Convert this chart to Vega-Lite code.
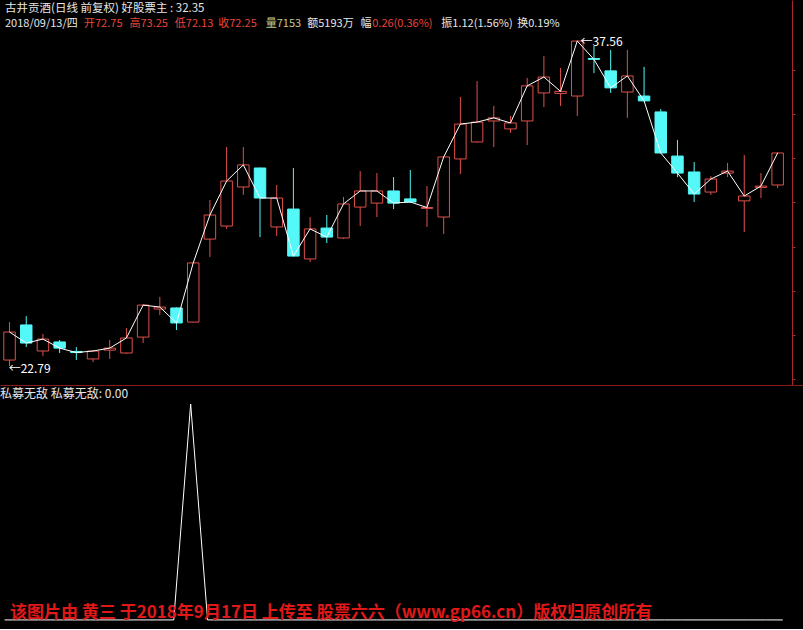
{
  "$schema": "https://vega.github.io/schema/vega-lite/v6.json",
  "background": "#000000",
  "padding": 0,
  "spacing": 0,
  "config": {
    "view": {"stroke": null},
    "text": {"font": "Noto Sans CJK SC", "fontSize": 12, "align": "left", "baseline": "middle"}
  },
  "datasets": {
    "k": [
      {"i": 0, "o": 23.06, "h": 24.78, "l": 22.79, "c": 24.33, "d": "up"},
      {"i": 1, "o": 24.65, "h": 25.05, "l": 23.65, "c": 23.83, "d": "down"},
      {"i": 2, "o": 23.47, "h": 24.24, "l": 23.24, "c": 24.01, "d": "up"},
      {"i": 3, "o": 23.88, "h": 23.97, "l": 23.38, "c": 23.6, "d": "down"},
      {"i": 4, "o": 23.45, "h": 23.65, "l": 23.06, "c": 23.4, "d": "down"},
      {"i": 5, "o": 23.11, "h": 23.51, "l": 22.97, "c": 23.47, "d": "up"},
      {"i": 6, "o": 23.51, "h": 23.97, "l": 23.11, "c": 23.6, "d": "up"},
      {"i": 7, "o": 23.38, "h": 24.51, "l": 23.35, "c": 24.06, "d": "up"},
      {"i": 8, "o": 24.1, "h": 25.58, "l": 23.83, "c": 25.55, "d": "up"},
      {"i": 9, "o": 25.37, "h": 25.92, "l": 25.1, "c": 25.46, "d": "up"},
      {"i": 10, "o": 25.42, "h": 25.44, "l": 24.42, "c": 24.74, "d": "down"},
      {"i": 11, "o": 24.78, "h": 27.48, "l": 24.76, "c": 27.46, "d": "up"},
      {"i": 12, "o": 28.54, "h": 30.31, "l": 27.73, "c": 29.63, "d": "up"},
      {"i": 13, "o": 29.13, "h": 32.71, "l": 29.0, "c": 31.17, "d": "up"},
      {"i": 14, "o": 30.9, "h": 32.71, "l": 30.54, "c": 31.9, "d": "up"},
      {"i": 15, "o": 31.76, "h": 31.78, "l": 28.63, "c": 30.4, "d": "down"},
      {"i": 16, "o": 29.09, "h": 30.99, "l": 28.68, "c": 30.4, "d": "up"},
      {"i": 17, "o": 29.9, "h": 31.76, "l": 27.75, "c": 27.77, "d": "down"},
      {"i": 18, "o": 27.64, "h": 29.54, "l": 27.5, "c": 29.0, "d": "up"},
      {"i": 19, "o": 29.04, "h": 29.63, "l": 28.36, "c": 28.63, "d": "down"},
      {"i": 20, "o": 28.59, "h": 30.45, "l": 28.55, "c": 30.13, "d": "up"},
      {"i": 21, "o": 29.99, "h": 31.62, "l": 29.13, "c": 30.72, "d": "up"},
      {"i": 22, "o": 30.17, "h": 31.53, "l": 29.54, "c": 30.72, "d": "up"},
      {"i": 23, "o": 30.72, "h": 31.35, "l": 29.9, "c": 30.17, "d": "down"},
      {"i": 24, "o": 30.36, "h": 31.67, "l": 30.17, "c": 30.22, "d": "down"},
      {"i": 25, "o": 29.93, "h": 30.94, "l": 29.09, "c": 29.97, "d": "up"},
      {"i": 26, "o": 29.54, "h": 32.28, "l": 28.77, "c": 32.26, "d": "up"},
      {"i": 27, "o": 32.17, "h": 34.98, "l": 31.49, "c": 33.75, "d": "up"},
      {"i": 28, "o": 32.94, "h": 35.7, "l": 32.9, "c": 33.84, "d": "up"},
      {"i": 29, "o": 33.89, "h": 34.57, "l": 32.71, "c": 34.03, "d": "up"},
      {"i": 30, "o": 33.53, "h": 34.12, "l": 33.35, "c": 33.8, "d": "up"},
      {"i": 31, "o": 33.89, "h": 35.84, "l": 32.8, "c": 35.48, "d": "up"},
      {"i": 32, "o": 35.16, "h": 36.83, "l": 34.52, "c": 35.88, "d": "up"},
      {"i": 33, "o": 35.14, "h": 36.29, "l": 34.57, "c": 35.23, "d": "up"},
      {"i": 34, "o": 35.02, "h": 37.56, "l": 34.12, "c": 37.51, "d": "up"},
      {"i": 35, "o": 36.72, "h": 37.29, "l": 36.06, "c": 36.68, "d": "down"},
      {"i": 36, "o": 36.16, "h": 37.11, "l": 35.16, "c": 35.39, "d": "down"},
      {"i": 37, "o": 35.2, "h": 37.11, "l": 34.03, "c": 35.93, "d": "up"},
      {"i": 38, "o": 35.02, "h": 36.34, "l": 34.78, "c": 34.8, "d": "down"},
      {"i": 39, "o": 34.3, "h": 34.43, "l": 32.42, "c": 32.44, "d": "down"},
      {"i": 40, "o": 32.3, "h": 33.03, "l": 31.35, "c": 31.53, "d": "down"},
      {"i": 41, "o": 31.58, "h": 32.03, "l": 30.22, "c": 30.58, "d": "down"},
      {"i": 42, "o": 30.67, "h": 31.4, "l": 30.54, "c": 31.26, "d": "up"},
      {"i": 43, "o": 31.53, "h": 31.99, "l": 31.35, "c": 31.62, "d": "up"},
      {"i": 44, "o": 30.27, "h": 32.35, "l": 28.86, "c": 30.49, "d": "up"},
      {"i": 45, "o": 30.88, "h": 31.53, "l": 30.4, "c": 30.94, "d": "up"},
      {"i": 46, "o": 30.99, "h": 32.46, "l": 30.85, "c": 32.44, "d": "up"}
    ],
    "ind": [
      {"i": 0, "v": 0}, {"i": 1, "v": 0}, {"i": 2, "v": 0}, {"i": 3, "v": 0}, {"i": 4, "v": 0},
      {"i": 5, "v": 0}, {"i": 6, "v": 0}, {"i": 7, "v": 0}, {"i": 8, "v": 0}, {"i": 9, "v": 0},
      {"i": 10, "v": 0}, {"i": 11, "v": 1}, {"i": 12, "v": 0}, {"i": 13, "v": 0}, {"i": 14, "v": 0},
      {"i": 15, "v": 0}, {"i": 16, "v": 0}, {"i": 17, "v": 0}, {"i": 18, "v": 0}, {"i": 19, "v": 0},
      {"i": 20, "v": 0}, {"i": 21, "v": 0}, {"i": 22, "v": 0}, {"i": 23, "v": 0}, {"i": 24, "v": 0},
      {"i": 25, "v": 0}, {"i": 26, "v": 0}, {"i": 27, "v": 0}, {"i": 28, "v": 0}, {"i": 29, "v": 0},
      {"i": 30, "v": 0}, {"i": 31, "v": 0}, {"i": 32, "v": 0}, {"i": 33, "v": 0}, {"i": 34, "v": 0},
      {"i": 35, "v": 0}, {"i": 36, "v": 0}, {"i": 37, "v": 0}, {"i": 38, "v": 0}, {"i": 39, "v": 0},
      {"i": 40, "v": 0}, {"i": 41, "v": 0}, {"i": 42, "v": 0}, {"i": 43, "v": 0}, {"i": 44, "v": 0},
      {"i": 45, "v": 0}, {"i": 46, "v": 0}
    ]
  },
  "vconcat": [
    {
      "width": 792,
      "height": 385,
      "layer": [
        {
          "data": {"name": "k"},
          "mark": {"type": "rule", "strokeWidth": 1},
          "encoding": {
            "x": {"field": "i", "type": "quantitative", "scale": {"domain": [-0.272, 46.56], "nice": false, "zero": false}, "axis": null},
            "y": {"field": "l", "type": "quantitative", "scale": {"domain": [21.93, 39.37], "nice": false, "zero": false},
                  "axis": {"orient": "right", "title": null, "labels": false, "grid": false, "domainColor": "#a8282a", "tickColor": "#a8282a", "tickSize": 3,
                           "values": [37.2, 36.2, 35.2, 34.2, 33.2, 32.2, 31.2, 30.2, 29.2, 28.2, 27.2, 26.2, 25.2, 24.2, 23.2, 22.2]}},
            "y2": {"field": "h"},
            "color": {"field": "d", "type": "nominal", "scale": {"domain": ["up", "down"], "range": ["#e0504a", "#54f8f8"]}, "legend": null}
          }
        },
        {
          "data": {"name": "k"},
          "mark": {"type": "bar", "size": 11.5, "strokeWidth": 1},
          "encoding": {
            "x": {"field": "i", "type": "quantitative"},
            "y": {"field": "o", "type": "quantitative"},
            "y2": {"field": "c"},
            "fill": {"field": "d", "type": "nominal", "scale": {"domain": ["up", "down"], "range": ["#000000", "#54f8f8"]}, "legend": null},
            "stroke": {"field": "d", "type": "nominal", "scale": {"domain": ["up", "down"], "range": ["#e0504a", "#54f8f8"]}, "legend": null}
          }
        },
        {
          "data": {"name": "k"},
          "mark": {"type": "line", "color": "#ffffff", "strokeWidth": 1},
          "encoding": {
            "x": {"field": "i", "type": "quantitative"},
            "y": {"field": "c", "type": "quantitative"}
          }
        },
        {
          "data": {"values": [{"t": "←22.79"}]},
          "mark": {"type": "text", "color": "#ffffff"},
          "encoding": {"x": {"datum": -0.05}, "y": {"datum": 22.67}, "text": {"field": "t"}}
        },
        {
          "data": {"values": [{"t": "←37.56"}]},
          "mark": {"type": "text", "color": "#ffffff"},
          "encoding": {"x": {"datum": 34.2}, "y": {"datum": 37.45}, "text": {"field": "t"}}
        },
        {
          "data": {"values": [{"t": "古井贡酒(日线 前复权) 好股票主 : 32.35"}]},
          "mark": {"type": "text", "color": "#e6e6e6", "fontSize": 11.5},
          "encoding": {"x": {"datum": -0.272}, "y": {"datum": 38.962}, "text": {"field": "t"}}
        },
        {
          "data": {"values": [{"t": "2018/09/13/四"}]},
          "mark": {"type": "text", "color": "#e6e6e6", "fontSize": 11},
          "encoding": {"x": {"datum": -0.272}, "y": {"datum": 38.28}, "text": {"field": "t"}}
        },
        {
          "data": {"values": [{"t": "开72.75"}]},
          "mark": {"type": "text", "color": "#e8463c", "fontSize": 11},
          "encoding": {"x": {"datum": 4.46}, "y": {"datum": 38.28}, "text": {"field": "t"}}
        },
        {
          "data": {"values": [{"t": "高73.25"}]},
          "mark": {"type": "text", "color": "#e8463c", "fontSize": 11},
          "encoding": {"x": {"datum": 7.18}, "y": {"datum": 38.28}, "text": {"field": "t"}}
        },
        {
          "data": {"values": [{"t": "低72.13"}]},
          "mark": {"type": "text", "color": "#e8463c", "fontSize": 11},
          "encoding": {"x": {"datum": 9.9}, "y": {"datum": 38.28}, "text": {"field": "t"}}
        },
        {
          "data": {"values": [{"t": "收72.25"}]},
          "mark": {"type": "text", "color": "#e8463c", "fontSize": 11},
          "encoding": {"x": {"datum": 12.5}, "y": {"datum": 38.28}, "text": {"field": "t"}}
        },
        {
          "data": {"values": [{"t": "量7153"}]},
          "mark": {"type": "text", "color": "#c8c88c", "fontSize": 11},
          "encoding": {"x": {"datum": 15.34}, "y": {"datum": 38.28}, "text": {"field": "t"}}
        },
        {
          "data": {"values": [{"t": "额5193万"}]},
          "mark": {"type": "text", "color": "#e6e6e6", "fontSize": 11},
          "encoding": {"x": {"datum": 17.83}, "y": {"datum": 38.28}, "text": {"field": "t"}}
        },
        {
          "data": {"values": [{"t": "幅"}]},
          "mark": {"type": "text", "color": "#e6e6e6", "fontSize": 11},
          "encoding": {"x": {"datum": 21.02}, "y": {"datum": 38.28}, "text": {"field": "t"}}
        },
        {
          "data": {"values": [{"t": "0.26(0.36%)"}]},
          "mark": {"type": "text", "color": "#e8463c", "fontSize": 11},
          "encoding": {"x": {"datum": 21.72}, "y": {"datum": 38.28}, "text": {"field": "t"}}
        },
        {
          "data": {"values": [{"t": "振1.12(1.56%)"}]},
          "mark": {"type": "text", "color": "#e6e6e6", "fontSize": 11},
          "encoding": {"x": {"datum": 25.86}, "y": {"datum": 38.28}, "text": {"field": "t"}}
        },
        {
          "data": {"values": [{"t": "换0.19%"}]},
          "mark": {"type": "text", "color": "#e6e6e6", "fontSize": 11},
          "encoding": {"x": {"datum": 30.4}, "y": {"datum": 38.28}, "text": {"field": "t"}}
        }
      ]
    },
    {
      "width": 803,
      "height": 244,
      "layer": [
        {
          "data": {"name": "ind"},
          "mark": {"type": "line", "color": "#ffffff", "strokeWidth": 1},
          "encoding": {
            "x": {"field": "i", "type": "quantitative", "scale": {"domain": [-0.272, 47.2], "nice": false, "zero": false},
                  "axis": {"orient": "top", "title": null, "labels": false, "ticks": false, "grid": false, "domainColor": "#8b1a1a"}},
            "y": {"field": "v", "type": "quantitative", "scale": {"domain": [-0.042, 1.088], "nice": false, "zero": false}, "axis": null}
          }
        },
        {
          "data": {"values": [{"t": "私募无敌  私募无敌: 0.00"}]},
          "mark": {"type": "text", "color": "#e6e6e6"},
          "encoding": {"x": {"datum": -0.27}, "y": {"datum": 1.046}, "text": {"field": "t"}}
        },
        {
          "data": {"values": [{"t": "该图片由 黄三 于2018年9月17日 上传至 股票六六（www.gp66.cn）版权归原创所有"}]},
          "mark": {"type": "text", "color": "#e01818", "fontSize": 17, "fontWeight": "bold"},
          "encoding": {"x": {"datum": 0.32}, "y": {"datum": 0.032}, "text": {"field": "t"}}
        }
      ]
    }
  ]
}
